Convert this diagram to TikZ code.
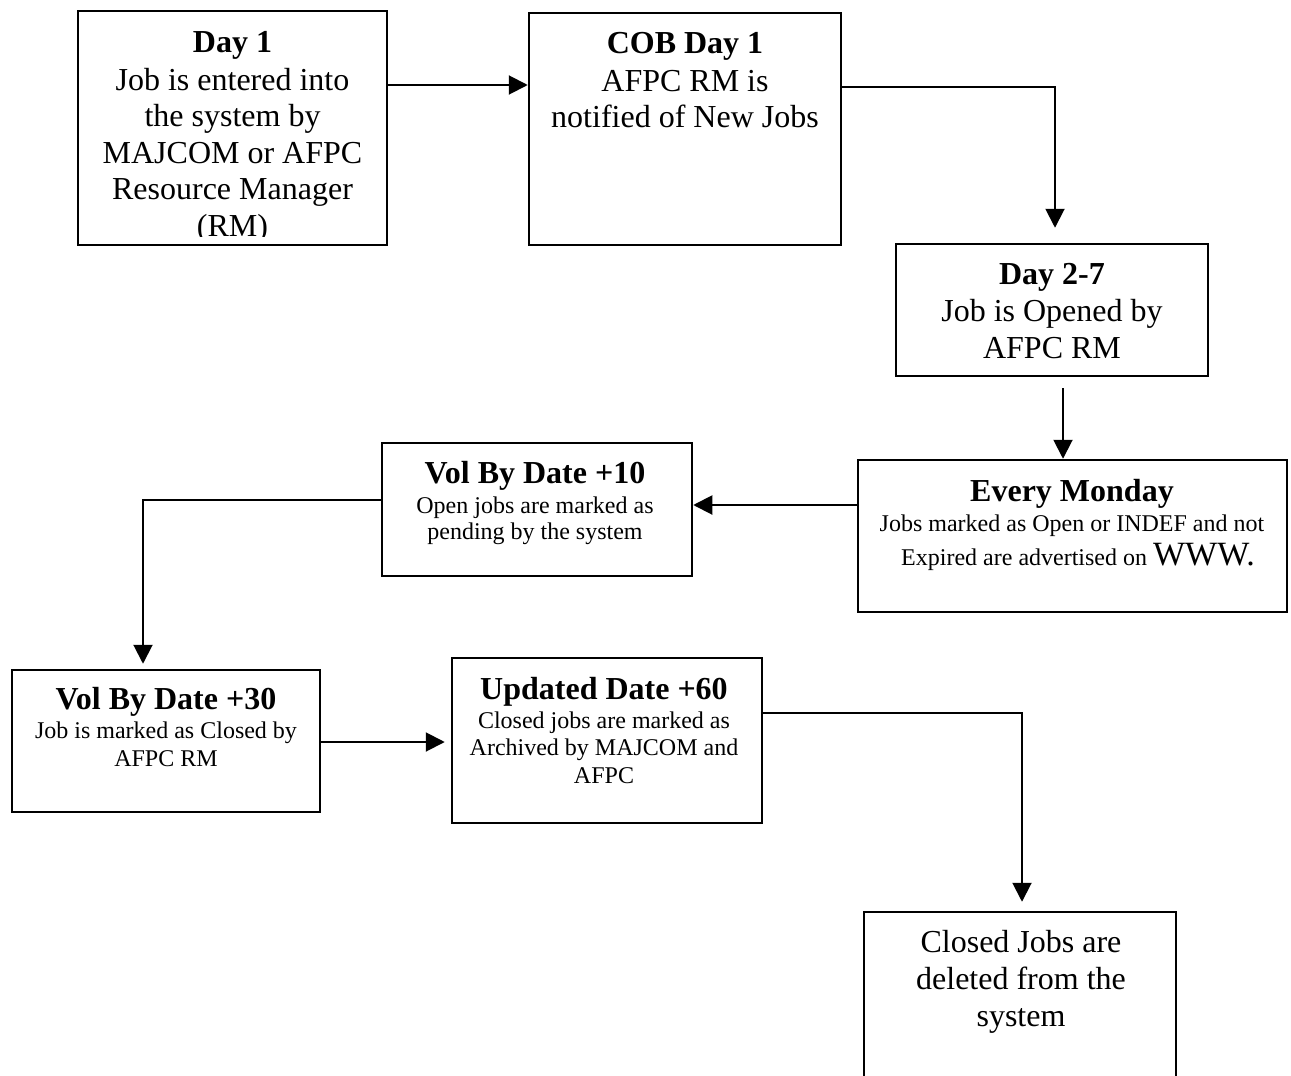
\documentclass[tikz,border=0pt]{standalone}
\usepackage{fontspec}
\setmainfont{Liberation Serif}
\usetikzlibrary{arrows.meta}
\newcommand\boxtitle[1]{{\rule{0pt}{12pt}\bfseries\fontsize{16}{16}\selectfont #1}}
\begin{document}
\begin{tikzpicture}[x=0.5pt,y=-0.5pt,
  box/.style={draw, line width=1.25pt, inner sep=0pt},
  txt/.style={anchor=north, inner sep=0pt, align=center},
  arr/.style={line width=1pt, -{Triangle[length=9.5pt,width=9.5pt]}}]
\useasboundingbox (0,0) rectangle (1291,1076);
\clip (0,0) rectangle (1291,1076);

% boxes
\node[box, minimum width=154.5pt, minimum height=117pt] (b1) at (232.5,128) {};
\node[box, minimum width=156pt, minimum height=116pt] (b2) at (685,129) {};
\node[box, minimum width=156pt, minimum height=66pt] (b3) at (1052,310) {};
\node[box, minimum width=214.5pt, minimum height=76pt] (b4) at (1072.5,536) {};
\node[box, minimum width=155pt, minimum height=66.5pt] (b5) at (537,509.5) {};
\node[box, minimum width=154pt, minimum height=71pt] (b6) at (166,741) {};
\node[box, minimum width=155pt, minimum height=82.5pt] (b7) at (607,740.5) {};
\node[box, minimum width=156pt, minimum height=94pt] (b8) at (1020,1006) {};

% texts
\begin{scope}
\clip (78,11) rectangle (387,236);
\node[txt, font=\fontsize{16}{18.3}\selectfont] (t1) at (232.5,28)
  {\boxtitle{Day 1}\\[0.5pt] Job is entered into\\ the system by\\ MAJCOM or AFPC\\ Resource Manager\\ (RM)};
\end{scope}
\node[txt, font=\fontsize{16}{18}\selectfont] (t2) at (685,29)
  {\boxtitle{COB Day 1}\\[1pt] AFPC RM is\\ notified of New Jobs};
\node[txt, font=\fontsize{16}{18.5}\selectfont] (t3) at (1052,260)
  {\boxtitle{Day 2-7}\\ Job is Opened by\\ AFPC RM};
\node[txt, font=\fontsize{12}{13.5}\selectfont] (t4) at (1072,477)
  {\boxtitle{Every Monday}\\[1.5pt] Jobs marked as Open or INDEF and not\\[2.5pt] \hspace*{6pt}Expired are advertised on {\fontsize{17}{17}\selectfont WWW.}};
\node[txt, font=\fontsize{12}{13}\selectfont] (t5) at (535,459)
  {\boxtitle{Vol By Date +10}\\[2pt] Open jobs are marked as\\ pending by the system};
\node[txt, font=\fontsize{12}{14}\selectfont] (t6) at (166,685)
  {\boxtitle{Vol By Date +30}\\[0.5pt] Job is marked as Closed by\\ AFPC RM};
\node[txt, font=\fontsize{12}{13.75}\selectfont] (t7) at (604,675)
  {\boxtitle{Updated Date +60}\\[0.75pt] Closed jobs are marked as\\ Archived by MAJCOM and\\ AFPC};
\node[txt, font=\fontsize{16}{18.6}\selectfont] (t8) at (1021,928)
  {\rule{0pt}{12pt}Closed Jobs are\\ deleted from the\\ system};

% connectors
\draw[arr] ([yshift=21.5pt]b1.east) -- ([yshift=21.5pt]b1.east -| b2.west);
\draw[arr] ([yshift=21pt]b2.east) -| ([xshift=1.5pt,yshift=7.5pt]b3.north);
\draw[arr] ([xshift=5.5pt,yshift=-5.5pt]b3.south) -- ([xshift=5.5pt]b3.south |- b4.north);
\draw[arr] ([yshift=15.5pt]b4.west) -- ([yshift=15.5pt]b4.west -| b5.east);
\draw[arr] ([yshift=4.75pt]b5.west) -| ([xshift=-11.5pt,yshift=2.5pt]b6.north);
\draw[arr] ([yshift=-0.5pt]b6.east) -- ([yshift=-0.5pt,xshift=-3pt]b6.east -| b7.west);
\draw[arr] ([yshift=13.75pt]b7.east) -| ([xshift=1pt,yshift=4.5pt]b8.north);
\end{tikzpicture}
\end{document}
